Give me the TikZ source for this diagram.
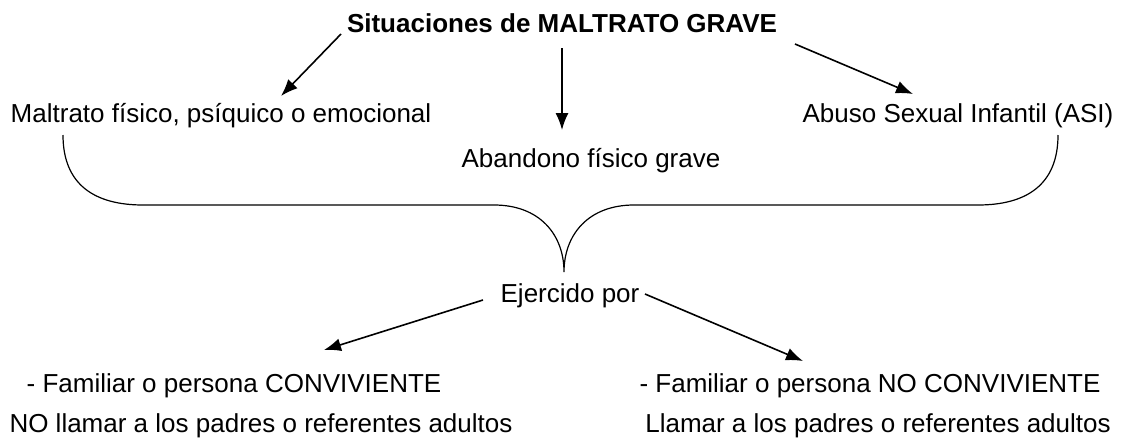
\documentclass[tikz,border=0pt]{standalone}
\usepackage{fontspec}
\setmainfont{Liberation Sans}
\usetikzlibrary{arrows.meta}
\begin{document}
\begin{tikzpicture}[x=1pt,y=-1pt,
  lbl/.style={inner sep=0pt,anchor=base,font=\fontsize{26}{30}\selectfont},
  arr/.style={line width=1.6pt,-{Latex[length=17pt,width=13pt]}},
  brace/.style={line width=1.2pt}]
\useasboundingbox (0,0) rectangle (1123,440);
\node[lbl,font=\fontsize{26}{30}\selectfont\bfseries] (title) at (562,32) {Situaciones de MALTRATO GRAVE};
\node[lbl] (fis) at (221,122) {Maltrato físico, psíquico o emocional};
\node[lbl] (aban) at (591,167) {Abandono físico grave};
\node[lbl] (asi) at (958,122) {Abuso Sexual Infantil (ASI)};
\node[lbl] (ej) at (570,302) {Ejercido por};
\node[lbl] (conv) at (234,392) {- Familiar o persona CONVIVIENTE};
\node[lbl] (noll) at (261,432) {NO llamar a los padres o referentes adultos};
\node[lbl] (noconv) at (870,392) {- Familiar o persona NO CONVIVIENTE};
\node[lbl] (ll) at (878,432) {Llamar a los padres o referentes adultos};
\coordinate (t1s) at (341,34); \coordinate (t1e) at (281,96);
\coordinate (t2s) at (562,48); \coordinate (t2e) at (562,130);
\coordinate (t3s) at (795,44); \coordinate (t3e) at (913,94);
\coordinate (e1s) at (483,300); \coordinate (e1e) at (324,350);
\coordinate (e2s) at (645,294); \coordinate (e2e) at (803,361);
\draw[arr] (t1s) -- (t1e);
\draw[arr] (t2s) -- (t2e);
\draw[arr] (t3s) -- (t3e);
\draw[arr] (e1s) -- (e1e);
\draw[arr] (e2s) -- (e2e);
\coordinate (bl) at (63,135); \coordinate (br) at (1058,135); \coordinate (tip) at (564,272);
\draw[brace] (bl) .. controls (63,185) and (95,205) .. (143,205) -- (494,205)
  .. controls (540,205) and (564,235) .. (tip)
  .. controls (564,235) and (588,205) .. (634,205) -- (978,205)
  .. controls (1026,205) and (1058,185) .. (br);
\end{tikzpicture}
\end{document}
